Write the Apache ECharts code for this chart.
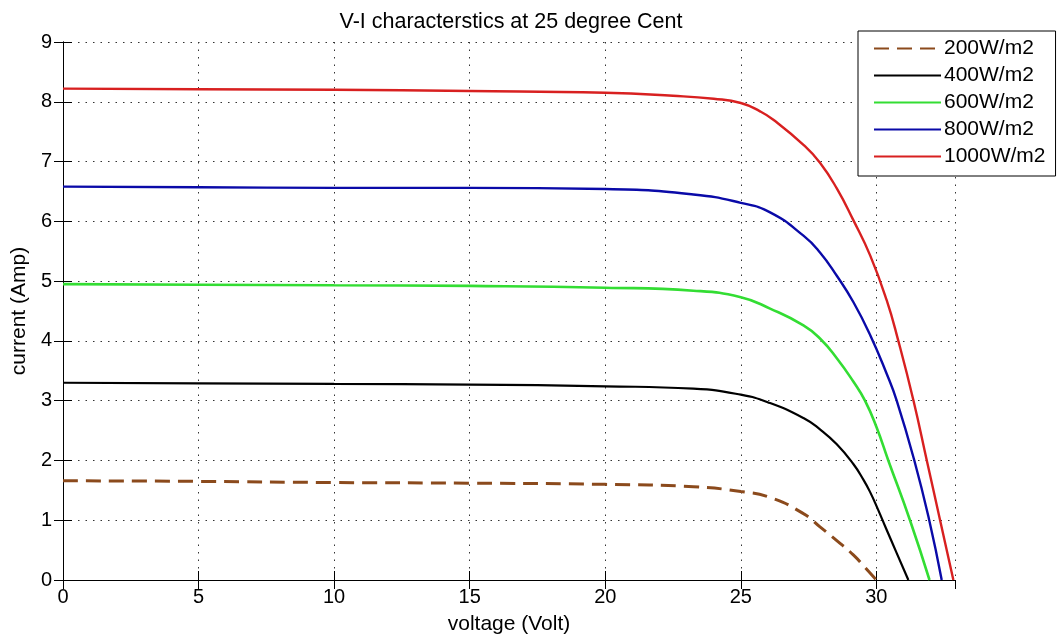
<!DOCTYPE html>
<html>
<head>
<meta charset="utf-8">
<title>V-I characterstics</title>
<script src="https://cdn.jsdelivr.net/npm/echarts@6/dist/echarts.min.js"></script>
<style>
  html, body { margin: 0; padding: 0; background: #fff; }
  #chart { width: 1057px; height: 640px; }
</style>
</head>
<body>
<div id="chart"></div>
<script>
// Irradiance levels (legend order)
const seriesNames = ['200W/m2', '400W/m2', '600W/m2', '800W/m2', '1000W/m2'];

// Voltage (V) and current (A) samples for each irradiance level
const volt200 = [0, 5, 10, 15, 20, 23.25, 25, 26.08, 27.31, 27.92, 28.54, 29.15, 29.6, 30.0];
const amp200  = [1.66, 1.65, 1.63, 1.62, 1.60, 1.56, 1.48, 1.38, 1.11, 0.89, 0.66, 0.42, 0.20, 0];

const volt400 = [0, 5, 10, 15, 20, 23.25, 25, 26.08, 27.31, 27.92, 28.54, 29.15, 29.52, 29.77, 30.05, 30.35, 30.75, 31.18];
const amp400  = [3.30, 3.29, 3.28, 3.27, 3.24, 3.20, 3.10, 2.96, 2.71, 2.52, 2.27, 1.94, 1.68, 1.47, 1.19, 0.87, 0.45, 0];

const volt600 = [0, 5, 10, 15, 20, 23.25, 25, 26.08, 27.31, 27.92, 28.54, 29.15, 29.58, 30.01, 30.44, 31.24, 31.96];
const amp600  = [4.95, 4.94, 4.93, 4.92, 4.89, 4.84, 4.73, 4.54, 4.26, 4.04, 3.71, 3.32, 3.0, 2.55, 2.0, 1.0, 0];

const volt800 = [0, 5, 10, 15, 20, 23.25, 25, 26.08, 27.31, 27.92, 28.54, 29.15, 29.77, 30.38, 30.75, 31.40, 31.95, 32.41];
const amp800  = [6.58, 6.57, 6.56, 6.56, 6.54, 6.45, 6.31, 6.15, 5.76, 5.48, 5.09, 4.65, 4.10, 3.45, 3.0, 2.0, 1.0, 0];

const volt1000 = [0, 5, 10, 15, 20, 22.5, 24, 25, 25.71, 26.2, 27.31, 27.92, 28.54, 29.15, 29.77, 30.38, 30.81, 31.37, 31.86, 32.35, 32.84];
const amp1000  = [8.22, 8.21, 8.20, 8.18, 8.15, 8.10, 8.05, 7.98, 7.84, 7.70, 7.28, 6.98, 6.55, 6.02, 5.43, 4.68, 4.0, 3.0, 2.0, 1.0, 0];

// Axis ranges
const voltMax = 32.9;
const voltStep = 5;
const ampMax = 9;
const ampStep = 1;

const FONT = '"Liberation Sans", Arial, sans-serif';

function pairs(v, a) {
  return v.map((x, i) => [x, a[i]]);
}

const curves = [
  { name: seriesNames[0], v: volt200,  a: amp200,  color: '#8b4a1c', type: [15, 8], width: 3 },
  { name: seriesNames[1], v: volt400,  a: amp400,  color: '#000000', type: 'solid', width: 2.2 },
  { name: seriesNames[2], v: volt600,  a: amp600,  color: '#33dd33', type: 'solid', width: 2.6 },
  { name: seriesNames[3], v: volt800,  a: amp800,  color: '#0a0aa8', type: 'solid', width: 2.4 },
  { name: seriesNames[4], v: volt1000, a: amp1000, color: '#d82020', type: 'solid', width: 2.4 }
];

const gridLine = { show: true, lineStyle: { color: '#333', width: 1, type: [1.5, 6] } };
const frame = { show: true, lineStyle: { color: '#000', width: 1 } };
const innerTick = { show: true, inside: true, length: 9, lineStyle: { color: '#000', width: 1 } };

const chart = echarts.init(document.getElementById('chart'), null, { renderer: 'canvas' });

chart.setOption({
  backgroundColor: '#fff',
  animation: false,
  title: {
    text: 'V-I characterstics at 25 degree Cent',
    left: 506,
    textAlign: 'center',
    top: 6,
    textStyle: { fontFamily: FONT, fontSize: 21.5, fontWeight: 'normal', color: '#000' }
  },
  grid: { left: 63, right: 102, top: 42, bottom: 58, containLabel: false },
  legend: {
    orient: 'vertical',
    left: 858,
    top: 31,
    data: seriesNames,
    itemWidth: 67,
    itemHeight: 14,
    itemGap: 6,
    padding: [7, 10, 9, 15],
    backgroundColor: '#fff',
    borderColor: '#000',
    borderWidth: 1,
    borderRadius: 0,
    itemStyle: { opacity: 0, borderWidth: 0 },
    textStyle: { fontFamily: FONT, fontSize: 21, color: '#000', lineHeight: 21, padding: [0, 0, 0, -2] }
  },
  xAxis: [
    {
      type: 'value', min: 0, max: voltMax, interval: voltStep,
      name: 'voltage (Volt)', nameLocation: 'middle', nameGap: 34,
      nameTextStyle: { fontFamily: FONT, fontSize: 21, color: '#000' },
      axisLine: frame, axisTick: innerTick,
      axisLabel: { fontFamily: FONT, fontSize: 20, color: '#000', margin: 7, showMaxLabel: false },
      splitLine: gridLine
    },
    {
      type: 'value', position: 'top', min: 0, max: voltMax, interval: voltStep,
      axisLine: frame, axisTick: innerTick, axisLabel: { show: false }, splitLine: { show: false }
    }
  ],
  yAxis: [
    {
      type: 'value', min: 0, max: ampMax, interval: ampStep,
      name: 'current (Amp)', nameLocation: 'middle', nameGap: 33,
      nameTextStyle: { fontFamily: FONT, fontSize: 21, color: '#000' },
      axisLine: frame, axisTick: innerTick,
      axisLabel: { fontFamily: FONT, fontSize: 20, color: '#000', margin: 11 },
      splitLine: gridLine
    },
    {
      type: 'value', position: 'right', min: 0, max: ampMax, interval: ampStep,
      axisLine: frame, axisTick: innerTick, axisLabel: { show: false }, splitLine: { show: false }
    }
  ],
  series: curves.map(c => ({
    name: c.name,
    type: 'line',
    xAxisIndex: 0,
    yAxisIndex: 0,
    data: pairs(c.v, c.a),
    showSymbol: false,
    symbol: 'none',
    smooth: 0.5,
    color: c.color,
    lineStyle: { color: c.color, width: c.width, type: c.type }
  }))
});
</script>
</body>
</html>
